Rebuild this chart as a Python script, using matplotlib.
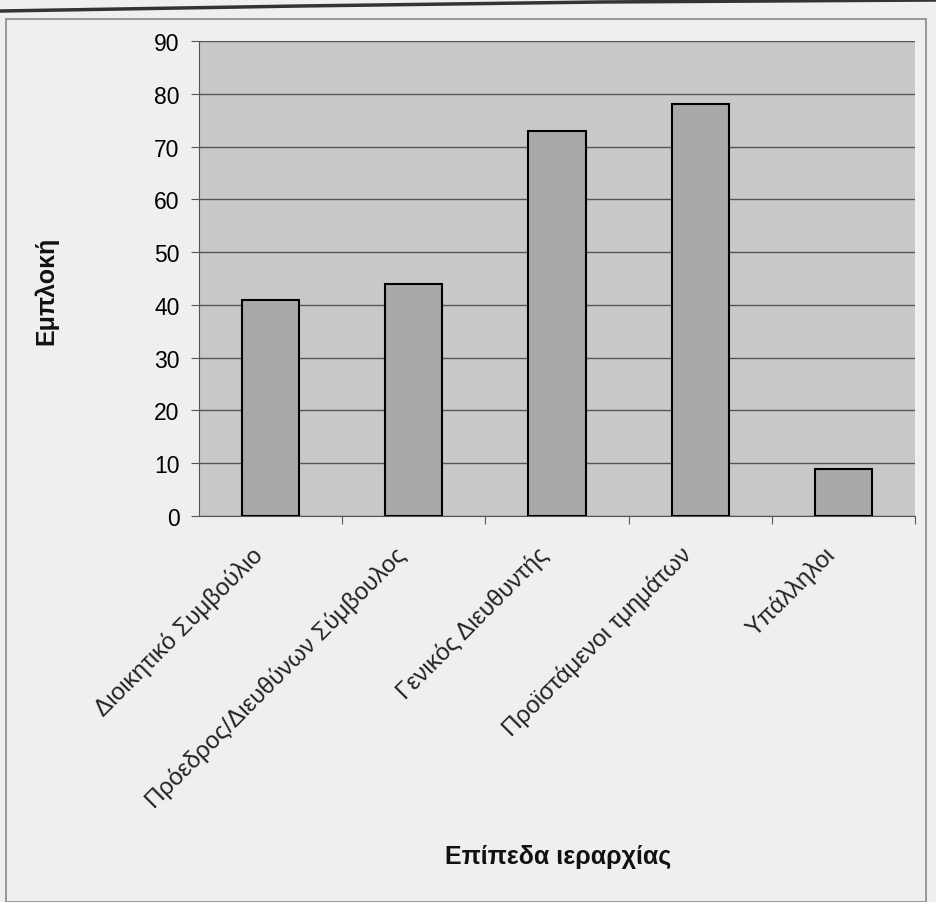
import matplotlib.pyplot as plt
from matplotlib.patches import Rectangle
from matplotlib.lines import Line2D

plt.rcParams['font.family'] = ['Liberation Sans', 'DejaVu Sans']

categories = ["Διοικητικό Συμβούλιο", "Πρόεδρος/Διευθύνων Σύμβουλος",
              "Γενικός Διευθυντής", "Προϊστάμενοι τμημάτων", "Υπάλληλοι"]
values = [41, 44, 73, 78, 9]
yticks = [0, 10, 20, 30, 40, 50, 60, 70, 80, 90]

W, H = 936, 903
fig = plt.figure(figsize=(W / 100, H / 100), dpi=100)
fig.patch.set_facecolor("#efefef")

# frame around the chart, with the heavier page edge on top
fig.add_artist(Rectangle((6 / W, 0), 920 / W, 1 - 20 / H, transform=fig.transFigure,
                         fill=False, edgecolor="#888888", linewidth=1.2))
fig.add_artist(Line2D([0, 300 / W, 600 / W, 1], [1 - 12 / H, 1 - 7 / H, 1 - 3 / H, 1 - 1 / H],
                      transform=fig.transFigure, color="#333333", linewidth=2.5))

left, right, top, bottom = 199, 915, 42, 517
ax = fig.add_axes([left / W, 1 - bottom / H, (right - left) / W, (bottom - top) / H])
ax.set_facecolor("#c9c9c9")

x = range(len(categories))
ax.bar(x, values, width=0.4, color="#a9a9a9", edgecolor="black", linewidth=1.5, zorder=3)

ax.set_xlim(-0.5, len(categories) - 0.5)
ax.set_ylim(0, 90)
ax.set_yticks(yticks)
ax.yaxis.grid(True, color="#555555", linewidth=1.0)
ax.set_axisbelow(True)

for s in ["top", "right"]:
    ax.spines[s].set_visible(False)
ax.spines["left"].set_color("#555555")
ax.spines["bottom"].set_color("#555555")

ax.tick_params(axis="y", labelsize=16.5, length=6, color="#555555", pad=8)
ax.set_xticks([i + 0.5 for i in x])
ax.set_xticklabels([])
ax.tick_params(axis="x", length=6, color="#555555")
for i, lab in enumerate(categories):
    ax.text(i - 0.14, -5, lab, rotation=45, ha="right", va="top",
            rotation_mode="anchor", fontsize=17.5, color="#222222",
            transform=ax.transData, clip_on=False)

fig.text(46 / W, 1 - 291 / H, "Εμπλοκή", rotation=90, ha="center", va="center",
         fontsize=18, fontweight="bold", color="#111111")
fig.text(558 / W, 1 - 857 / H, "Επίπεδα ιεραρχίας", ha="center", va="center",
         fontsize=18, fontweight="bold", color="#111111")

fig.savefig("out.png", dpi=100, facecolor=fig.get_facecolor())
